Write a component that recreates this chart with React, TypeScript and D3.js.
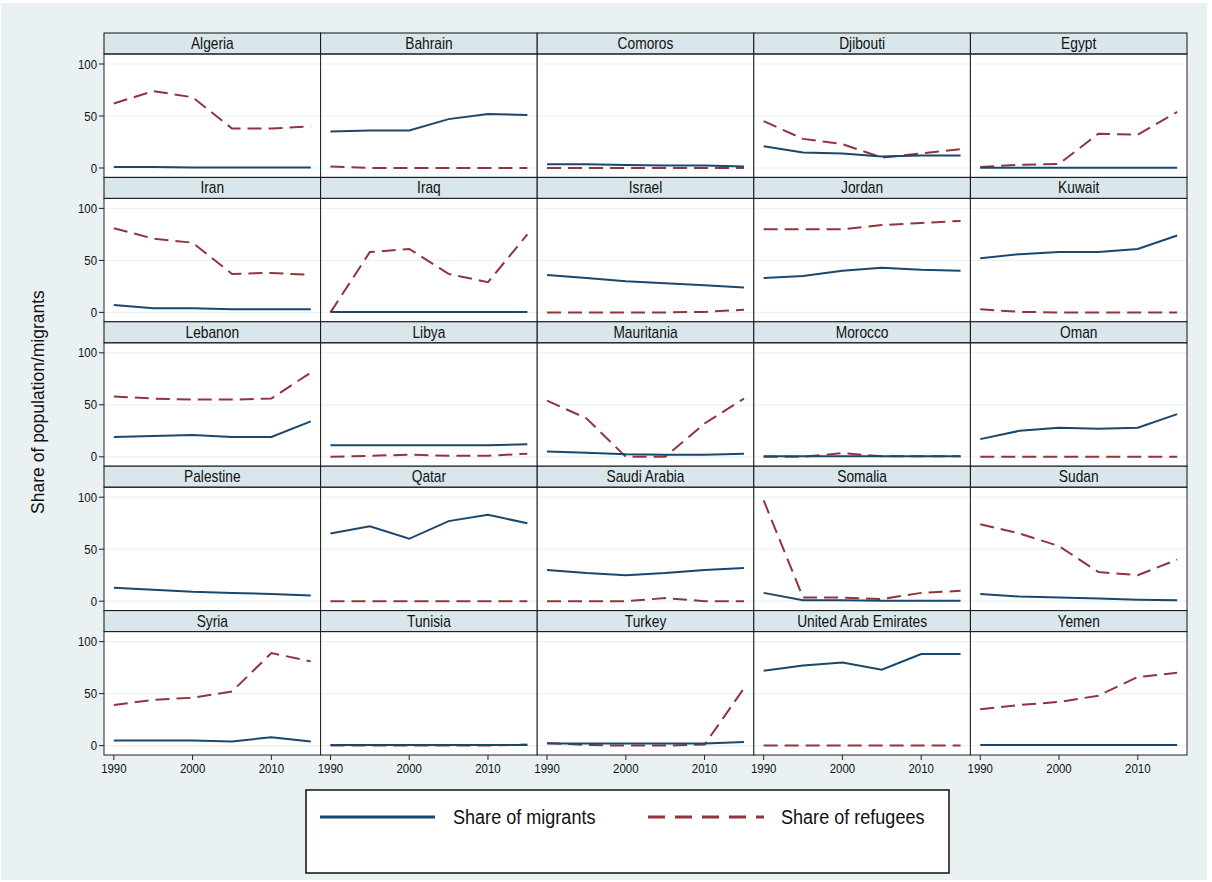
import React from "react";
import * as d3 from "d3";

// country panels, in display order (5 x 5 grid)
const countries = [
  "Algeria", "Bahrain", "Comoros", "Djibouti", "Egypt",
  "Iran", "Iraq", "Israel", "Jordan", "Kuwait",
  "Lebanon", "Libya", "Mauritania", "Morocco", "Oman",
  "Palestine", "Qatar", "Saudi Arabia", "Somalia", "Sudan",
  "Syria", "Tunisia", "Turkey", "United Arab Emirates", "Yemen",
];

const years = [1990, 1995, 2000, 2005, 2010, 2015];
const xTicks = [1990, 2000, 2010];
const yTicks = [0, 50, 100];

// share of migrants, one row per country
const migrants: number[][] = [
  [1, 1, 0.5, 0.5, 0.5, 0.5],
  [35, 36, 36, 47, 52, 51],
  [3.5, 3.5, 3, 2.5, 2.5, 1.5],
  [21, 15, 14, 11, 12, 12],
  [0.3, 0.3, 0.3, 0.3, 0.3, 0.3],
  [7, 4, 4, 3, 3, 3],
  [0.5, 0.5, 0.5, 0.5, 0.5, 0.5],
  [36, 33, 30, 28, 26, 24],
  [33, 35, 40, 43, 41, 40],
  [52, 56, 58, 58, 61, 74],
  [19, 20, 21, 19, 19, 34],
  [11, 11, 11, 11, 11, 12],
  [5, 4, 2.5, 2, 2, 3],
  [0.5, 0.5, 0.5, 0.5, 0.5, 0.5],
  [17, 25, 28, 27, 28, 41],
  [13, 11, 9, 8, 7, 5.5],
  [65, 72, 60, 77, 83, 75],
  [30, 27, 25, 27, 30, 32],
  [8, 1, 1, 0.5, 0.5, 0.5],
  [7, 4.5, 3.5, 2.5, 1.5, 1],
  [5, 5, 5, 4, 8, 4],
  [0.5, 0.5, 0.5, 0.5, 0.5, 0.5],
  [2, 2, 2, 2, 2, 3.5],
  [72, 77, 80, 73, 88, 88],
  [0.5, 0.5, 0.5, 0.5, 0.5, 0.5],
];

// share of refugees, one row per country (null = no data)
const refugees: (number | null)[][] = [
  [62, 74, 68, 38, 38, 40],
  [1.5, 0, 0, 0, 0, 0],
  [0, 0, 0, 0, 0, 0],
  [45, 28, 23, 10, 14, 18],
  [1, 3, 4, 33, 32, 54],
  [81, 71, 67, 37, 38, 36],
  [0, 58, 61, 37, 29, 75],
  [0, 0, 0, 0, 0.5, 2.5],
  [80, 80, 80, 84, 86, 88],
  [3, 0.5, 0, 0, 0, 0],
  [58, 56, 55, 55, 56, 81],
  [0, 1, 2, 1, 1, 3],
  [54, 37, 0, 0, 32, 56],
  [0, 0, 3.5, 0.5, 0.5, 0.5],
  [0, 0, 0, 0, 0, 0],
  [null, null, null, null, null, null],
  [0, 0, 0, 0, 0, 0],
  [0, 0, 0, 3, 0, 0],
  [97, 3.5, 3.5, 2, 8, 10],
  [74, 65, 53, 28, 25, 40],
  [39, 44, 46, 52, 89, 81],
  [0, 0, 0, 0, 0, 1],
  [2.5, 0.5, 0, 0, 1, 55],
  [0, 0, 0, 0, 0, 0],
  [35, 39, 42, 48, 66, 70],
];

const W = 1212;
const H = 882;
const BG = "#e9f1f3";
const STRIP = "#d9e6eb";
const BLUE = "#1a476f";
const RED = "#90353b";
const SANS = "'Liberation Sans', Arial, sans-serif";

const gridLeft = 104;
const gridRight = 1187;
const gridTop = 33;
const gridBottom = 755;
const nCols = 5;
const nRows = 5;
const stripH = 21;

const colX = d3.scaleLinear().domain([0, nCols]).range([gridLeft, gridRight]);
const rowY = d3.scaleLinear().domain([0, nRows]).range([gridTop, gridBottom]);

// no narrow font installed: squeeze regular sans horizontally
const Narrow = ({ x, y, size, anchor = "start", squeeze = 0.86, children }: any) => (
  <text
    transform={`translate(${x},${y}) scale(${squeeze},1)`}
    textAnchor={anchor}
    fontFamily={SANS}
    fontSize={size}
    fill="#111"
  >
    {children}
  </text>
);

const Panel = ({ i }: { i: number }) => {
  const c = i % nCols;
  const r = Math.floor(i / nCols);
  const x0 = colX(c);
  const x1 = colX(c + 1);
  const y0 = rowY(r);
  const y1 = rowY(r + 1);
  const x = d3.scaleLinear().domain([1988.75, 2016.25]).range([x0, x1]);
  const y = d3.scaleLinear().domain([0, 100]).range([y0 + 135, y0 + 31]);
  const line = d3
    .line<number | null>()
    .defined((d) => d != null)
    .x((_, k) => x(years[k]))
    .y((d) => y(d as number));

  return (
    <g>
      <rect x={x0} y={y0 + stripH} width={x1 - x0} height={y1 - y0 - stripH} fill="#fff" />
      {yTicks.map((t) => (
        <line key={t} x1={x0} x2={x1} y1={y(t)} y2={y(t)} stroke="#eaf2f3" strokeWidth={1.2} />
      ))}
      <path d={line(refugees[i]) || ""} fill="none" stroke={RED} strokeWidth={2} strokeDasharray="14,7" />
      <path d={line(migrants[i]) || ""} fill="none" stroke={BLUE} strokeWidth={2} />
      <rect x={x0} y={y0} width={x1 - x0} height={stripH} fill={STRIP} stroke="#111" strokeWidth={1} />
      <rect x={x0} y={y0 + stripH} width={x1 - x0} height={y1 - y0 - stripH} fill="none" stroke="#222" strokeWidth={1} />
      <Narrow x={(x0 + x1) / 2} y={y0 + 16} size={16} anchor="middle" squeeze={0.86}>
        {countries[i]}
      </Narrow>
      {c === 0 &&
        yTicks.map((t) => (
          <g key={t}>
            <line x1={x0 - 5} x2={x0} y1={y(t)} y2={y(t)} stroke="#222" />
            <Narrow x={x0 - 7} y={y(t) + 4.5} size={13} anchor="end" squeeze={0.88}>
              {t}
            </Narrow>
          </g>
        ))}
      {r === nRows - 1 &&
        xTicks.map((t) => (
          <g key={t}>
            <line x1={x(t)} x2={x(t)} y1={y1} y2={y1 + 5} stroke="#222" />
            <Narrow x={x(t)} y={y1 + 18} size={13} anchor="middle" squeeze={0.88}>
              {t}
            </Narrow>
          </g>
        ))}
    </g>
  );
};

export default function App() {
  return (
    <svg width={W} height={H} style={{ position: "absolute", left: 0, top: 0 }}>
      <rect x={0} y={0} width={W} height={H} fill="#fff" />
      <rect x={1} y={3} width={W - 6} height={H - 5} fill={BG} />
      {countries.map((_, i) => (
        <Panel key={i} i={i} />
      ))}
      <text
        transform={`translate(44,${(gridTop + gridBottom) / 2 + 8}) rotate(-90)`}
        textAnchor="middle"
        fontFamily={SANS}
        fontSize={17.5}
        fill="#111"
      >
        Share of population/migrants
      </text>
      <g>
        <rect x={306} y={790} width={643} height={83} fill="#fff" stroke="#111" strokeWidth={1.5} />
        <line x1={320} x2={435} y1={817} y2={817} stroke={BLUE} strokeWidth={3} />
        <Narrow x={453} y={824} size={21} squeeze={0.86}>
          Share of migrants
        </Narrow>
        <line x1={648} x2={764} y1={817} y2={817} stroke={RED} strokeWidth={3} strokeDasharray="17,10" />
        <Narrow x={781} y={824} size={21} squeeze={0.86}>
          Share of refugees
        </Narrow>
      </g>
    </svg>
  );
}
